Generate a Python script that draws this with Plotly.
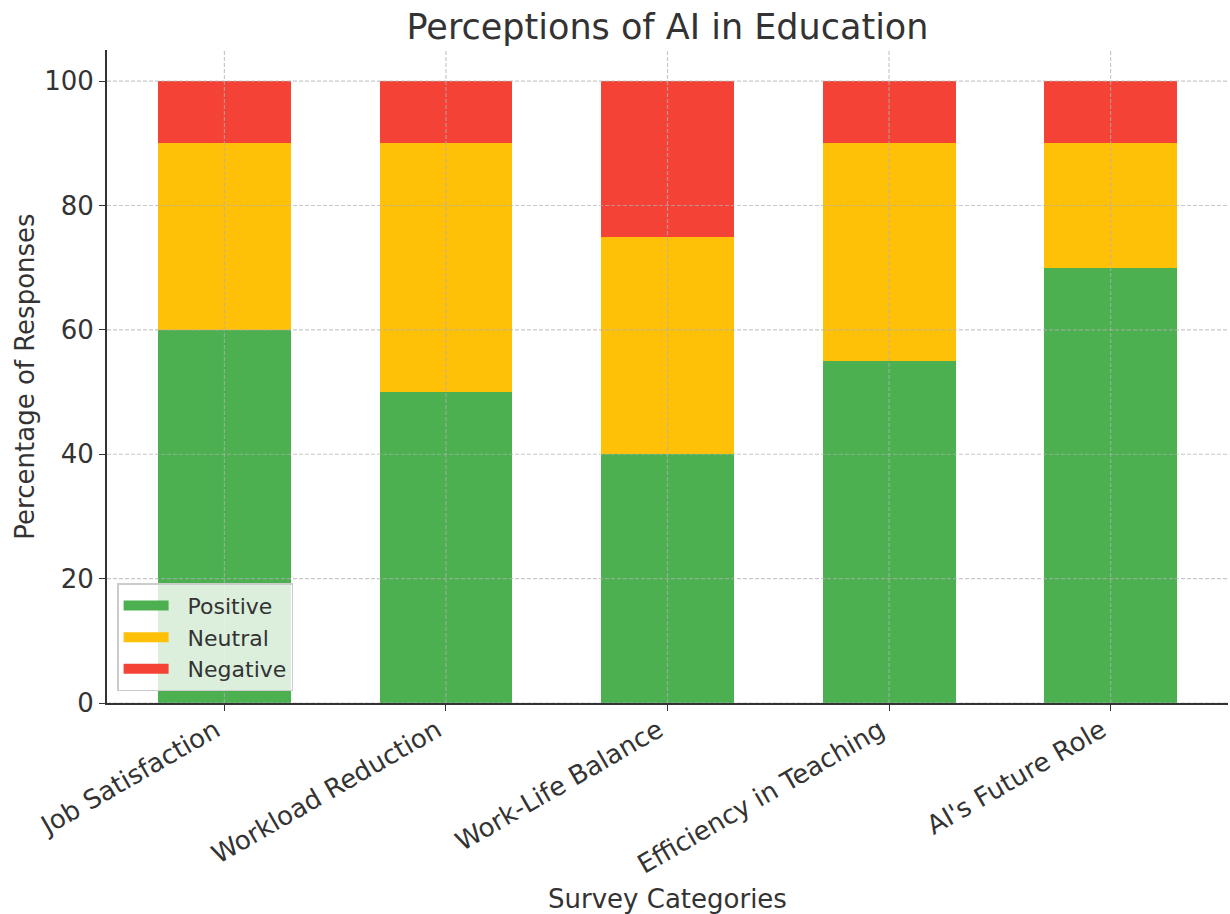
import plotly.graph_objects as go

categories = ["Job Satisfaction", "Workload Reduction", "Work-Life Balance", "Efficiency in Teaching", "AI's Future Role"]
positive = [60, 50, 40, 55, 70]
neutral = [30, 40, 35, 35, 20]
negative = [10, 10, 25, 10, 10]
y_ticks = [0, 20, 40, 60, 80, 100]

series = [("Positive", positive, "#4CAF50"), ("Neutral", neutral, "#FFC107"), ("Negative", negative, "#F44336")]
xs = list(range(len(categories)))

fig = go.Figure()
for name, vals, color in series:
    fig.add_trace(go.Bar(x=xs, y=vals, name=name, showlegend=False,
                         marker=dict(color=color, line=dict(width=0)), width=0.6))
# legend entries with wide rectangular swatches
for name, vals, color in series:
    fig.add_trace(go.Scatter(x=[None], y=[None], mode="lines", name="\u00a0\u00a0" + name,
                             line=dict(color=color, width=16), hoverinfo="skip"))

grid_color = "rgba(176,176,176,0.7)"
grid_dash = "4px,2px"
for v in y_ticks:
    fig.add_shape(type="line", xref="paper", yref="y", x0=0, x1=1, y0=v, y1=v,
                  line=dict(color=grid_color, width=1.2, dash=grid_dash), layer="above")
for i in xs:
    fig.add_shape(type="line", xref="x", yref="paper", x0=i, x1=i, y0=0, y1=1,
                  line=dict(color=grid_color, width=1.2, dash=grid_dash), layer="above")

font = "DejaVu Sans, sans-serif"
fig.update_layout(
    barmode="stack",
    width=1230, height=914,
    paper_bgcolor="white", plot_bgcolor="white",
    margin=dict(l=107, r=2, t=50, b=209),
    font=dict(family=font, color="#333333", size=26),
    title=dict(text="Perceptions of AI in Education", x=0.5, xref="paper", xanchor="center",
               y=0.971, yanchor="middle", font=dict(size=35, color="#333333", family=font)),
    legend=dict(x=0.009, y=0.018, xanchor="left", yanchor="bottom",
                bgcolor="rgba(255,255,255,0.8)", bordercolor="#cccccc", borderwidth=1.5,
                font=dict(size=22, color="#333333"), traceorder="normal", itemwidth=45),
)
fig.update_xaxes(
    range=[-0.53, 4.53], tickmode="array", tickvals=xs, ticktext=categories,
    tickangle=-30, ticks="outside", ticklen=6, tickcolor="#333333", tickfont=dict(size=26),
    ticklabelshift=-9, ticklabelstandoff=-6,
    showline=True, linecolor="#333333", linewidth=2,
    showgrid=False,
    title=dict(text="Survey Categories", font=dict(size=26), standoff=14),
    zeroline=False,
)
fig.update_yaxes(
    range=[0, 105], tickmode="array", tickvals=y_ticks, ticks="outside", ticklen=6, tickcolor="#333333",
    tickfont=dict(size=26),
    showline=True, linecolor="#333333", linewidth=2,
    showgrid=False,
    title=dict(text="Percentage of Responses", font=dict(size=26), standoff=2),
    zeroline=False,
)

fig.write_html("out.html", config={"displayModeBar": False},
               post_script="document.body.style.margin='0';")
